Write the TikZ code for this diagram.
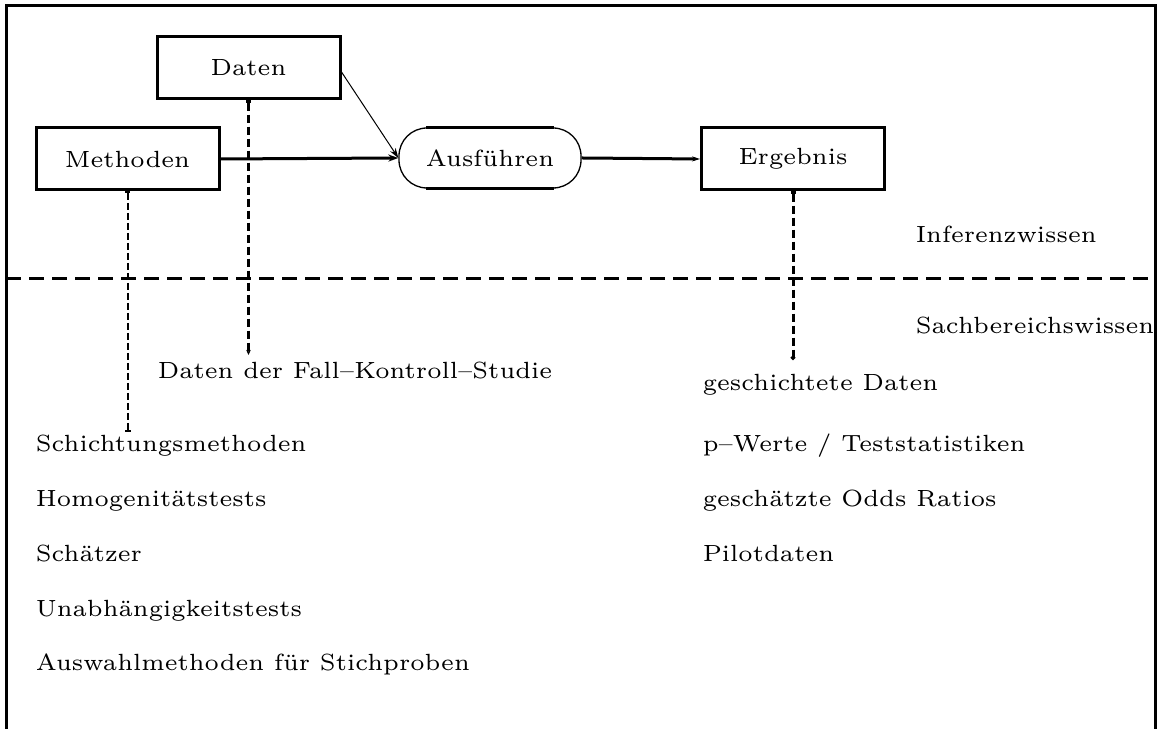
\documentclass[tikz,border=0pt]{standalone}
\usetikzlibrary{arrows.meta}
\def\pxu{0.256pt}
\begin{document}
\begin{tikzpicture}[x=\pxu,y=-\pxu,
  every node/.style={font=\fontsize{6}{7.2}\selectfont, inner sep=0pt},
  box/.style={draw, line width=3*\pxu, minimum width=183*\pxu, minimum height=62*\pxu},
  label/.style={anchor=base west},
  frame/.style={line width=3*\pxu},
  flow/.style={line width=3*\pxu, -{Stealth[length=10*\pxu,width=7*\pxu]}},
  thinflow/.style={line width=1*\pxu, -{Stealth[length=10*\pxu,width=6.5*\pxu]}},
  divider/.style={line width=3*\pxu, dash pattern=on 15*\pxu off 8*\pxu},
  link/.style={line width=3*\pxu, dash pattern=on 8*\pxu off 4*\pxu},
  thinlink/.style={line width=2*\pxu, dash pattern=on 6.6*\pxu off 3.4*\pxu}]
\useasboundingbox (0,0) rectangle (1159,729);

% open frame and the dividing line
\coordinate (fbl) at (6,729);
\coordinate (ftl) at (6,6);
\coordinate (ftr) at (1155,6);
\coordinate (fbr) at (1155,729);
\draw[frame] (fbl) -- (ftl) -- (ftr) -- (fbr);
\coordinate (dl) at (6,279);
\coordinate (dr) at (1155,279);
\draw[divider] (dl) -- (dr);

% process nodes
\node[box] (daten) at (248.5,68) {Daten};
\node[box] (meth) at (127.5,159) {Methoden};
\node[box] (erg) at (793,159) {Ergebnis};
\node[line width=1.3*\pxu, draw, rounded corners=28*\pxu,
      minimum width=182*\pxu, minimum height=60*\pxu] (aus) at (490,158) {Ausführen};
\draw[line width=2.5*\pxu] ([xshift=28*\pxu]aus.north west) -- ([xshift=-28*\pxu]aus.north east);
\draw[line width=2.5*\pxu] ([xshift=28*\pxu]aus.south west) -- ([xshift=-28*\pxu]aus.south east);

\draw[flow] (meth.east) -- (aus.west);
\draw[thinflow] ([yshift=-4*\pxu]daten.east) -- (aus.west);
\draw[flow, -{Stealth[length=8*\pxu,width=5*\pxu]}] (aus.east) -- (erg.west);

% layer labels
\node[label] (inf) at (915,243) {Inferenzwissen};
\node[label] (sach) at (915,334) {Sachbereichswissen};

% domain knowledge, left column
\node[label] (dfk) at (157,379) {Daten der Fall–Kontroll–Studie};
\node[label] (m1) at (35,452) {Schichtungsmethoden};
\node[label] (m2) at (35,507) {Homogenitätstests};
\node[label] (m3) at (35,562) {Schätzer};
\node[label] (m4) at (35,617) {Unabhängigkeitstests};
\node[label] (m5) at (35,671) {Auswahlmethoden für Stichproben};

% domain knowledge, right column
\node[label] (r1) at (702,391) {geschichtete Daten};
\node[label] (r2) at (702,452) {p–Werte / Teststatistiken};
\node[label] (r3) at (702,507) {geschätzte Odds Ratios};
\node[label] (r4) at (702,562) {Pilotdaten};

% links from the process to the domain
\coordinate (dend) at (248.5,355);
\coordinate (mend) at (127.5,432);
\coordinate (eend) at (793,360);
\draw[link, {Bar[width=5*\pxu]}-{Stealth[length=5*\pxu,width=4.5*\pxu]}] (daten.south) -- (dend);
\draw[thinlink, {Bar[width=5*\pxu]}-{Bar[width=6*\pxu]}] (meth.south) -- (mend);
\draw[link, {Bar[width=5*\pxu]}-{Circle[length=4.5*\pxu]}] (erg.south) -- (eend);
\end{tikzpicture}
\end{document}
